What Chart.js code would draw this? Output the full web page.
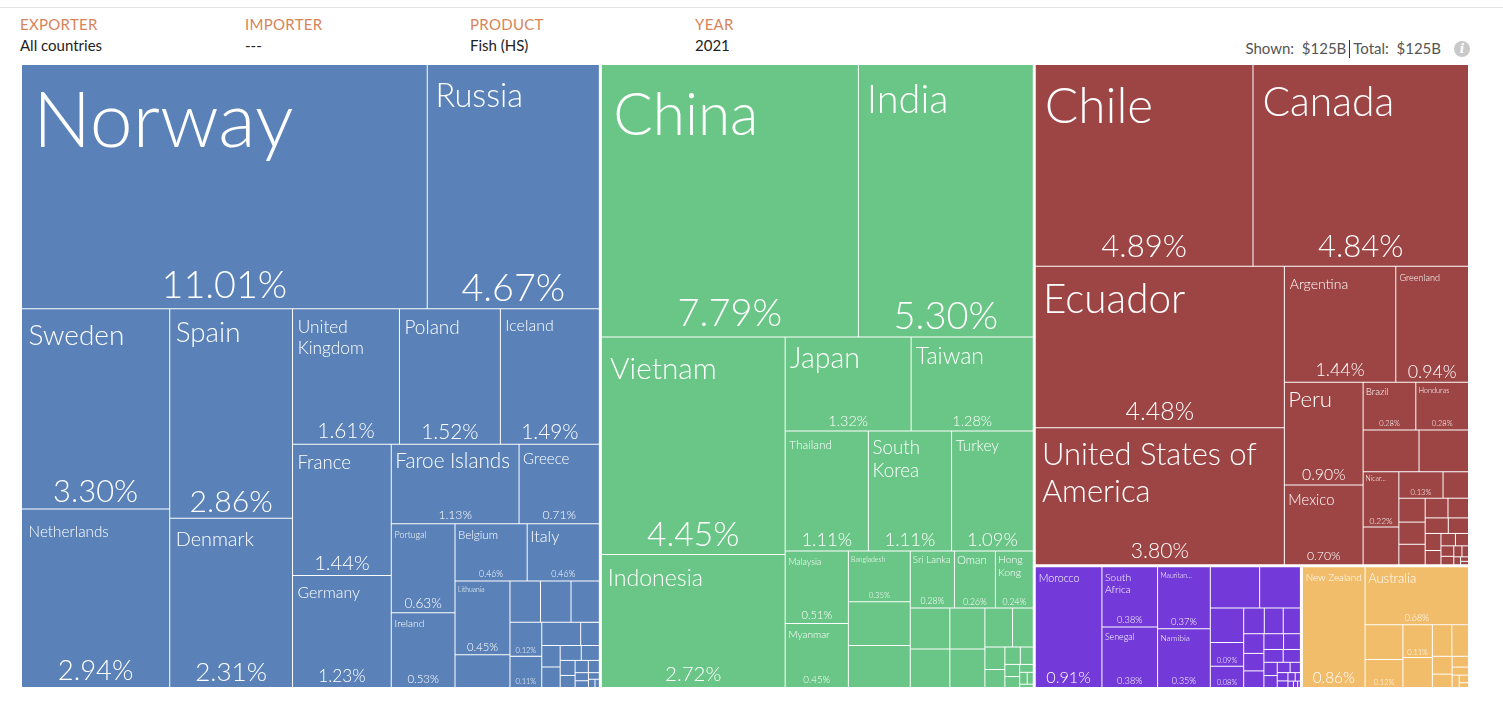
<!DOCTYPE html>
<html><head><meta charset="utf-8">
<script src="https://cdn.jsdelivr.net/npm/chart.js@4.4.1/dist/chart.umd.min.js"></script>
<style>
html,body{margin:0;padding:0;background:#fff;width:1503px;height:710px;overflow:hidden;font-family:Lato,"Noto Sans",sans-serif;}
#topline{position:absolute;left:0;top:7px;width:1503px;height:1px;background:#e3e3e3;}
.k{position:absolute;top:14px;font-size:15px;line-height:20px;color:#d8845a;letter-spacing:0.3px}
.v{position:absolute;top:35px;font-size:15px;line-height:20px;color:#222}
#tot{position:absolute;right:62px;top:38px;font-size:15px;line-height:20px;color:#555;white-space:pre}
#sep{display:inline-block;width:1px;height:18px;background:#333;vertical-align:-4px;margin:0 3px}
#info{position:absolute;left:1454px;top:41px;width:16px;height:16px;border-radius:50%;background:#c9c9c9;color:#fff;font:italic bold 12px "DejaVu Serif",serif;text-align:center;line-height:16px}
#wrap{position:absolute;left:20px;top:63px;width:1450px;height:626px}
</style></head>
<body>
<div id="topline"></div>
<div class="k" style="left:20px">EXPORTER</div><div class="v" style="left:20px">All countries</div>
<div class="k" style="left:245px">IMPORTER</div><div class="v" style="left:245px">---</div>
<div class="k" style="left:470px">PRODUCT</div><div class="v" style="left:470px">Fish (HS)</div>
<div class="k" style="left:695px">YEAR</div><div class="v" style="left:695px">2021</div>
<div id="tot">Shown:  $125B<span id="sep"></span>Total:  $125B</div>
<div id="info">i</div>
<div id="wrap"><canvas id="c"></canvas></div>
<script>
// ---------------- DATA (shares of world fish exports, %, 2021) ----------------
const regionNames = ["Europe", "Asia", "Americas", "Africa", "Oceania"];

const europeCountries = ["Norway","Russia","Sweden","Netherlands","Spain","Denmark","United Kingdom","Poland","Iceland","France","Germany","Faroe Islands","Greece","Portugal","Ireland","Belgium","Italy","Lithuania",null,null,null,null,"","",null,null,null,null,null,null,null,null,null,null,null,null,null,null,null];
const europeShares = [11.01,4.67,3.30,2.94,2.86,2.31,1.61,1.52,1.49,1.44,1.23,1.13,0.71,0.63,0.53,0.46,0.46,0.45,0.20,0.14,0.14,0.13,0.12,0.11,0.10,0.048,0.044,0.042,0.035,0.03,0.025,0.02,0.018,0.015,0.012,0.01,0.008,0.006,0.004];

const asiaCountries = ["China","India","Vietnam","Indonesia","Japan","Taiwan","Thailand","South Korea","Turkey","Malaysia","Myanmar","Bangladesh",null,null,"Sri Lanka","Oman","Hong Kong",null,null,null,null,null,null,null,null,null,null,null,null,null,null,null,null];
const asiaShares = [7.79,5.30,4.45,2.72,1.32,1.28,1.11,1.11,1.09,0.51,0.45,0.35,0.30,0.29,0.28,0.26,0.24,0.18,0.17,0.16,0.15,0.12,0.09,0.05,0.04,0.03,0.025,0.02,0.018,0.012,0.01,0.008,0.005];

const americasCountries = ["Chile","Canada","Ecuador","United States of America","Argentina","Greenland","Peru","Mexico","Brazil","Honduras",null,null,"Nicaragua",null,"",null,null,null,null,null,null,null,null,null,null,null,null,null,null,null,null,null,null,null];
const americasShares = [4.89,4.84,4.48,3.80,1.44,0.94,0.90,0.70,0.28,0.28,0.26,0.23,0.22,0.15,0.13,0.075,0.07,0.065,0.06,0.05,0.045,0.04,0.035,0.03,0.025,0.02,0.018,0.015,0.012,0.01,0.008,0.006,0.004,0.003];

const africaCountries = ["Morocco","South Africa","Senegal","Mauritania","Namibia",null,null,null,"","",null,null,null,null,null,null,null,null,null,null,null,null,null,null,null,null,null,null,null,null,null];
const africaShares = [0.91,0.38,0.38,0.37,0.35,0.23,0.19,0.13,0.09,0.08,0.06,0.055,0.05,0.045,0.04,0.038,0.035,0.03,0.028,0.025,0.02,0.018,0.015,0.012,0.01,0.008,0.007,0.005,0.004,0.003,0.002];

const oceaniaCountries = ["New Zealand","Australia",null,"","",null,"","",null,null,null,null,null,null,null];
const oceaniaShares = [0.86,0.68,0.15,0.12,0.11,0.10,0.07,0.06,0.04,0.03,0.02,0.015,0.01,0.008,0.005];

// ---------------- STYLE ----------------
const regionColors = ["#5A82B9", "#6AC686", "#9D4544", "#7339D9", "#F1BD6B"];
const FAMILY = 'Lato, "Noto Sans", sans-serif';
const fontStr = s => `300 ${s}px ${FAMILY}`;
const NAME_SCALE = 0.92;

// ---------------- build flat dataset ----------------
const allCountries = [europeCountries, asiaCountries, americasCountries, africaCountries, oceaniaCountries];
const allShares = [europeShares, asiaShares, americasShares, africaShares, oceaniaShares];
const flatData = [], flatNames = [], flatGroups = [], flatColors = [];
allShares.forEach((arr, g) => arr.forEach((v, j) => {
  flatData.push(v); flatNames.push(allCountries[g][j]); flatGroups.push(g); flatColors.push(regionColors[g]);
}));

// ---------------- squarified treemap ----------------
const RATIO = 1;
function tileDice(row, value, x0, y0, x1, y1) {
  const k = value ? (x1 - x0) / value : 0;
  for (const n of row) { n.y0 = y0; n.y1 = y1; n.x0 = x0; n.x1 = x0 += n.value * k; }
}
function tileSlice(row, value, x0, y0, x1, y1) {
  const k = value ? (y1 - y0) / value : 0;
  for (const n of row) { n.x0 = x0; n.x1 = x1; n.y0 = y0; n.y1 = y0 += n.value * k; }
}
function squarify(nodes, x0, y0, x1, y1) {
  let value = nodes.reduce((a, n) => a + n.value, 0);
  let i0 = 0, i1 = 0; const n = nodes.length;
  while (i0 < n) {
    const dx = x1 - x0, dy = y1 - y0;
    let sumValue;
    do sumValue = nodes[i1++].value; while (!sumValue && i1 < n);
    let minValue = sumValue, maxValue = sumValue;
    const alpha = Math.max(dy / dx, dx / dy) / (value * RATIO);
    let beta = sumValue * sumValue * alpha;
    let minRatio = Math.max(maxValue / beta, beta / minValue);
    for (; i1 < n; ++i1) {
      const nv = nodes[i1].value;
      sumValue += nv;
      if (nv < minValue) minValue = nv;
      if (nv > maxValue) maxValue = nv;
      beta = sumValue * sumValue * alpha;
      const newRatio = Math.max(maxValue / beta, beta / minValue);
      if (newRatio > minRatio) { sumValue -= nv; break; }
      minRatio = newRatio;
    }
    const row = nodes.slice(i0, i1);
    if (dx < dy) { const yy = dx ? y0 + dy * sumValue / value : y1; tileDice(row, sumValue, x0, y0, x1, yy); y0 = yy; }
    else { const xx = dy ? x0 + dx * sumValue / value : x1; tileSlice(row, sumValue, x0, y0, xx, y1); x0 = xx; }
    value -= sumValue; i0 = i1;
  }
}
function layoutTreemap(values, groups, W, H) {
  const PAD = 1, half = 0.5;
  const gmap = {};
  values.forEach((v, i) => {
    const g = groups[i];
    if (!gmap[g]) gmap[g] = { value: 0, children: [] };
    gmap[g].value += v; gmap[g].children.push({ value: v, index: i });
  });
  const gs = Object.values(gmap).sort((a, b) => b.value - a.value);
  gs.forEach(g => g.children.sort((a, b) => b.value - a.value));
  squarify(gs, PAD - half, PAD - half, W - (PAD - half), H - (PAD - half));
  const out = [];
  for (const g of gs) {
    g.x0 += half; g.y0 += half; g.x1 -= half; g.y1 -= half;
    squarify(g.children, g.x0 + PAD - half, g.y0 + PAD - half, g.x1 - (PAD - half), g.y1 - (PAD - half));
    for (const c of g.children) {
      out[c.index] = { x0: c.x0 + half, y0: c.y0 + half, x1: Math.max(c.x0 + half, c.x1 - half), y1: Math.max(c.y0 + half, c.y1 - half) };
    }
  }
  return out;
}

// ---------------- label fitting ----------------
function wrapWords(ctx, words, avail) {
  const lines = []; let cur = '';
  for (const w of words) {
    if (ctx.measureText(w).width > avail) return null;
    const t = cur ? cur + ' ' + w : w;
    if (ctx.measureText(t).width <= avail) cur = t; else { lines.push(cur); cur = w; }
  }
  if (cur) lines.push(cur);
  return lines;
}
function fitName(ctx, name, w, h) {
  if (w < 20 || h < 14) return null;
  const m = Math.min(w, h);
  const padX = Math.max(2, 0.045 * m);
  const words = name.split(' ');
  const nMax = Math.max(...words.map(x => x.length));
  let fr = Math.min(1.24 * w / nMax, 0.4 * h);
  if (fr < 7) {
    const maxChars = Math.floor(0.62 * w / 3.75);
    if (maxChars < 3) return null;
    const s = name.length > maxChars ? name.slice(0, maxChars) + '...' : name;
    return { f: 7.5 * NAME_SCALE, lines: [s], padX };
  }
  for (let f = fr * NAME_SCALE; f >= 6.5; f -= 0.5) {
    ctx.font = fontStr(f);
    const lines = wrapWords(ctx, words, w - 2 * padX);
    if (lines && lines.length > 1) {
      // prefer a single line when only a small reduction is needed
      ctx.font = fontStr(100);
      const f1 = Math.min(f, (w - 2 * padX) / (ctx.measureText(name).width / 100));
      if (f1 >= 0.95 * f) return { f: f1, lines: [name], padX };
    }
    if (lines && lines.length * 1.2 * f <= 0.55 * h) return { f, lines, padX };
  }
  return null;
}
function fitPct(txt, w, h) {
  let f = Math.min(38, 0.155 * h, 1.24 * w / txt.length);
  if (f < 7.5) { if (txt.length * 3.75 <= 0.8 * w && h >= 12) f = 7.5; else return null; }
  return f;
}

// ---------------- Chart.js treemap controller ----------------
class TreemapController extends Chart.DatasetController {
  update(mode) {
    const meta = this._cachedMeta;
    this.updateElements(meta.data, 0, meta.data.length, mode);
  }
  updateElements(rects, start, count, mode) {
    const meta = this._cachedMeta;
    const xs = meta.xScale, ys = meta.yScale;
    const area = this.chart.chartArea;
    if (!area) return;
    const W = area.right - area.left, H = area.bottom - area.top;
    if (!(W > 0 && H > 0)) return;
    const ds = this.getDataset();
    const leaves = layoutTreemap(ds.data, ds.groups, W, H);
    for (let i = start; i < start + count; i++) {
      const r = leaves[i];
      const left = xs.getPixelForValue(r.x0 / W), right = xs.getPixelForValue(r.x1 / W);
      const top = ys.getPixelForValue(r.y0 / H), bottom = ys.getPixelForValue(r.y1 / H);
      Object.assign(rects[i], {
        x: (left + right) / 2, y: top, base: bottom, width: right - left, height: bottom - top,
        horizontal: false, inflateAmount: 0, borderSkipped: {}, enableBorderRadius: false,
        options: { backgroundColor: ds.backgroundColor[i], borderColor: 'rgba(0,0,0,0)', borderWidth: 0, borderRadius: 0 }
      });
    }
  }
  draw() {
    super.draw();
    const ctx = this.chart.ctx;
    const meta = this._cachedMeta, ds = this.getDataset();
    ctx.save();
    ctx.fillStyle = '#ffffff';
    meta.data.forEach((el, i) => {
      const name = ds.names[i];
      if (name === null || name === undefined || !el.width) return;
      const w = el.width, h = el.base - el.y, left = el.x - w / 2, top = el.y;
      const m = Math.min(w, h);
      let nameBottom = top;
      if (name) {
        const fit = fitName(ctx, name, w, h);
        if (fit) {
          ctx.font = fontStr(fit.f); ctx.textAlign = 'left'; ctx.textBaseline = 'alphabetic';
          const b0 = top + Math.max(3, 0.11 * m) + 0.717 * fit.f;
          fit.lines.forEach((ln, k) => ctx.fillText(ln, left + fit.padX, b0 + k * 1.2 * fit.f));
          nameBottom = b0 + (fit.lines.length - 1) * 1.2 * fit.f + 0.25 * fit.f;
        }
      }
      const txt = ds.data[i].toFixed(2) + '%';
      const pf = fitPct(txt, w, h);
      if (pf) {
        const by = top + h - (1.5 + 0.035 * m);
        if (by - 0.72 * pf >= nameBottom - 2 || !name) {
          ctx.font = fontStr(pf); ctx.textAlign = 'center'; ctx.textBaseline = 'alphabetic';
          ctx.fillText(txt, left + w / 2, by);
        }
      }
    });
    ctx.restore();
  }
}
TreemapController.id = 'treemap';
TreemapController.defaults = { datasetElementType: false, dataElementType: 'bar' };
TreemapController.overrides = {};
Chart.register(TreemapController);

new Chart(document.getElementById('c'), {
  type: 'treemap',
  data: {
    datasets: [{
      label: 'Fish exports 2021',
      data: flatData,
      names: flatNames,
      groups: flatGroups,
      backgroundColor: flatColors
    }]
  },
  options: {
    responsive: true, maintainAspectRatio: false, animation: false, devicePixelRatio: 1,
    events: [],
    layout: { padding: 0 },
    plugins: { legend: { display: false }, tooltip: { enabled: false } },
    scales: {
      x: { type: 'linear', min: 0, max: 1, display: false },
      y: { type: 'linear', min: 0, max: 1, reverse: true, display: false }
    }
  }
});
</script>
</body></html>
